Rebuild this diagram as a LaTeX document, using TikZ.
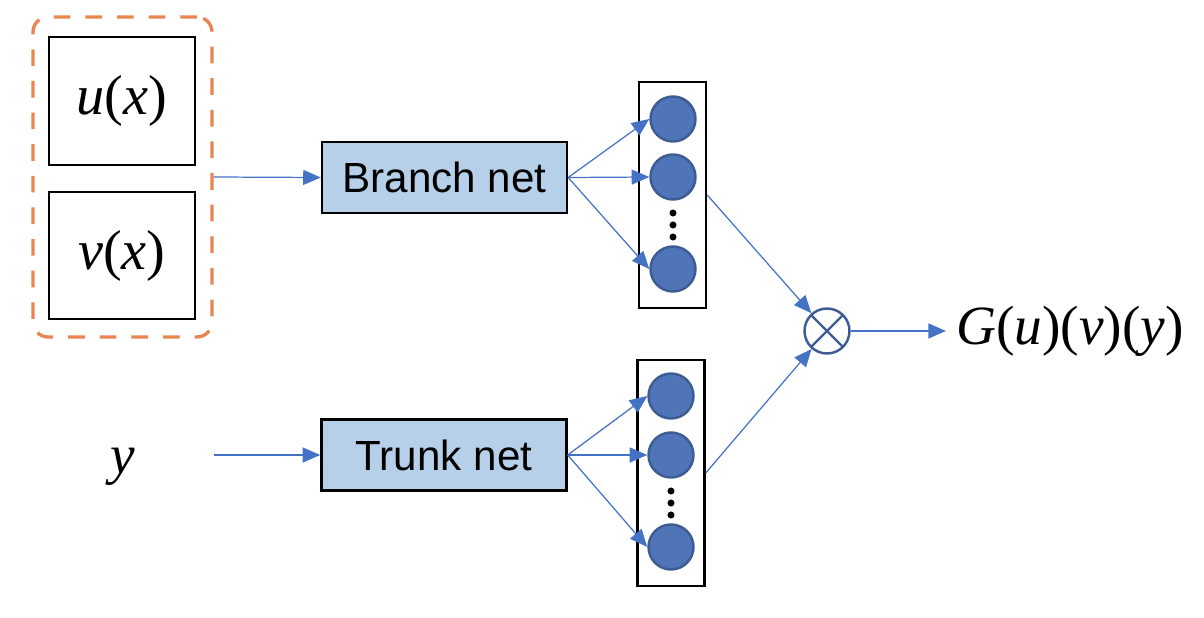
\documentclass[tikz,border=0pt]{standalone}
\usepackage{fontspec}
\setmainfont{Liberation Sans}
\newfontfamily\tmsfont{Liberation Serif}
\usetikzlibrary{arrows.meta,positioning}
\definecolor{lineblue}{RGB}{68,114,196}
\definecolor{netfill}{RGB}{181,208,232}
\definecolor{neuronfill}{RGB}{79,117,184}
\definecolor{neurondraw}{RGB}{61,92,147}
\definecolor{dashorange}{RGB}{233,133,80}
\tikzset{basic/.style={draw,line width=1.4pt,inner sep=0pt}}
\tikzset{inbox/.style={basic,rectangle,minimum width=2.92cm,minimum height=2.55cm,font=\tmsfont\fontsize{32}{38}\selectfont}}
\tikzset{netbox/.style={basic,rectangle,fill=netfill,minimum width=4.9cm,minimum height=1.42cm,font=\fontsize{24}{28}\selectfont}}
\tikzset{column/.style={basic,rectangle,minimum width=1.34cm,minimum height=4.52cm}}
\tikzset{neuron/.style={circle,draw=neurondraw,fill=neuronfill,line width=1.4pt,minimum size=0.9cm,inner sep=0pt}}
\tikzset{formula/.style={inner sep=0.2cm,font=\tmsfont\fontsize{31.5}{37}\selectfont}}
\tikzset{link/.style={draw=lineblue,line width=0.7pt,-{Triangle[length=10pt,width=8.5pt]}}}

\begin{document}
\begin{tikzpicture}[x=0.02cm,y=-0.02cm]
    \useasboundingbox (0,0) rectangle (1204,618);

    % inputs
    \node[draw=dashorange,line width=1.9pt,dash pattern=on 9.5pt off 8.5pt,rounded corners=0.3cm,
          minimum width=3.58cm,minimum height=6.4cm] (inputs) at (122.5,177) {};
    \node[inbox] (ubox) at (122,101) {\textit{u}(\textit{x})};
    \node[inbox] (vbox) at (122,255.5) {\textit{v}(\textit{x})};
    \node[formula] (ylabel) at (123,467) {\textit{y}};
    \coordinate (yin) at (214,455);

    % the two nets
    \node[netbox] (branch) at (444.5,177.5) {Branch net};
    \node[netbox] (trunk) at (444,455) {Trunk net};

    % outputs of the nets
    \node[column] (col1) at (672.5,195) {};
    \node[column] (col2) at (671,473) {};
    \node[neuron] (b1) at (673,119) {};
    \node[neuron] (b2) at (673,177) {};
    \node[neuron] (b3) at (673,269) {};
    \node[neuron] (t1) at (671,396) {};
    \node[neuron] (t2) at (671,455) {};
    \node[neuron] (t3) at (671,547) {};
    \foreach \yy in {213,225,237} \fill (673,\yy) circle (2pt);
    \foreach \yy in {491,503,515} \fill (671,\yy) circle (2pt);

    % product and result
    \node[circle,draw=neurondraw,line width=1.4pt,minimum size=0.9cm,inner sep=0pt,
          path picture={\draw[neurondraw,line width=1.4pt]
            (path picture bounding box.north west) -- (path picture bounding box.south east)
            (path picture bounding box.north east) -- (path picture bounding box.south west);}] (prod) at (827,331) {};
    \node[formula] (result) at (1070,331) {\textit{G}(\textit{u})(\textit{v})(\textit{y})};

        \path[link] (inputs.east) -- (branch.west);
        \path[link] (yin) -- (trunk.west);
        \path[link] (branch.east) -- (b1.west);
        \path[link] (branch.east) -- (b2.west);
        \path[link] (branch.east) -- (b3.west);
        \path[link] (trunk.east) -- (t1.west);
        \path[link] (trunk.east) -- (t2.west);
        \path[link] (trunk.east) -- (t3.west);
        \path[link] (col1.east) -- (prod);
        \path[link] (col2.east) -- (prod);
        \path[link] (prod.east) -- (result.west);
\end{tikzpicture}
\end{document}
